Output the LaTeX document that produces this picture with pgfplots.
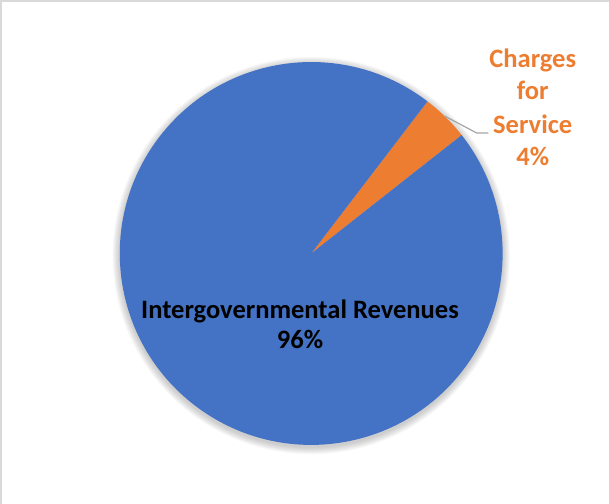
\documentclass[border=0pt]{standalone}
\usepackage{pgfplots}
\pgfplotsset{compat=1.18}
\usepackage{fontspec}
\setmainfont{Carlito}
\definecolor{pieblue}{HTML}{4472C4}
\definecolor{pieorange}{HTML}{ED7D31}
\definecolor{framegray}{HTML}{D9D9D9}
\definecolor{leadgray}{HTML}{A6A6A6}

% slice values (percent)
\def\valIG{96}
\def\valCS{4}
\def\startang{38.2}
\pgfmathsetmacro{\midang}{\startang+\valCS*3.6}
\pgfmathsetmacro{\endang}{\startang+360}

\begin{document}
\begin{tikzpicture}
\begin{axis}[
  scale only axis, width=609bp, height=502bp,
  xmin=0, xmax=609, ymin=0, ymax=502,
  hide axis, clip=true,
]
% frame
\draw[framegray, line width=1.5bp] (axis cs:8.5,-20) -- (axis cs:8.5,496.5) -- (axis cs:640,496.5);
% soft shadow
\pgfplotsinvokeforeach{1,2,...,9}{
  \fill[black, opacity=0.025] (axis cs:315,245) circle[radius=189bp+#1*0.8bp];
}
% Charges for Service
\fill[pieorange] (axis cs:315,247) -- ++(\startang:189bp) arc[start angle=\startang, end angle=\midang, radius=189bp] -- cycle;
% Intergovernmental Revenues
\fill[pieblue] (axis cs:315,247) -- ++(\midang:189bp) arc[start angle=\midang, end angle=\endang, radius=189bp] -- cycle;
% leader line
\draw[leadgray, line width=1.2bp] (axis cs:446.7,382.7) -- (axis cs:478.3,366) -- (axis cs:490,366);
% labels
\begin{scope}[every node/.style={font=\fontsize{26.2bp}{30bp}\selectfont\bfseries, anchor=base, inner sep=0pt}]
\node[black] at (axis cs:304,182.7) {Intergovernmental Revenues};
\node[black] at (axis cs:304,152.7) {\valIG\%};
\node[pieorange] at (axis cs:533.7,430.3) {Charges};
\node[pieorange] at (axis cs:533.7,398.7) {for};
\node[pieorange] at (axis cs:533.7,365.3) {Service};
\node[pieorange] at (axis cs:533.7,333.7) {\valCS\%};
\end{scope}
\end{axis}
\end{tikzpicture}
\end{document}
